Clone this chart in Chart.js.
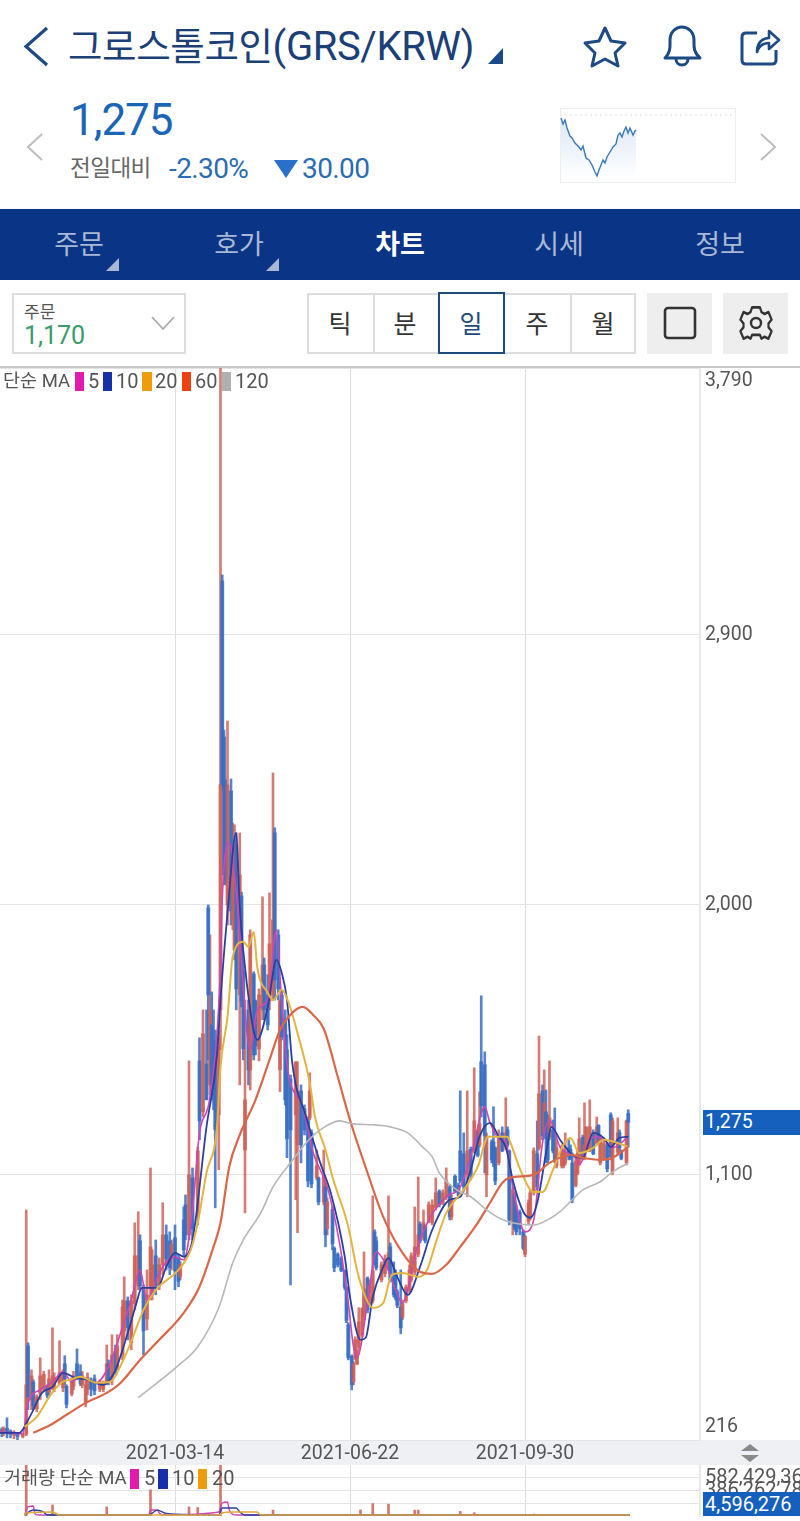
<!DOCTYPE html>
<html lang="ko">
<head>
<meta charset="utf-8">
<title>그로스톨코인(GRS/KRW)</title>
<script src="https://cdn.jsdelivr.net/npm/chart.js@4"></script>
<style>
html, body { margin: 0; padding: 0; background: #fff; }
body { position: relative; width: 800px; height: 1521px; overflow: hidden; font-family: Roboto, "Noto Sans CJK KR", sans-serif; }
.abs { position: absolute; white-space: nowrap; }
.box { position: absolute; box-sizing: border-box; }
.mid { transform: translateY(-50%); line-height: 1; }
.cen { transform: translate(-50%, -50%); line-height: 1; }
.lg { font-size: 18.5px; color: #555; }
.lgn { font-size: 20px; color: #555; }
canvas { position: absolute; display: block; }
svg { position: absolute; left: 0; top: 0; }
</style>
</head>
<body>

<!-- header -->
<div class="abs mid" id="title" style="left:68px;top:47px;font-size:37.5px;color:#1c3f78;letter-spacing:-.4px">그로스톨코인<span style="font-size:40px">(GRS/KRW)</span></div>
<div class="abs mid" style="left:70px;top:120px;font-size:44px;color:#1b65b5;letter-spacing:-1px">1,275</div>
<div class="abs mid" style="left:70px;top:168px;font-size:22.5px;color:#666;letter-spacing:-.5px">전일대비</div>
<div class="abs mid" style="left:169px;top:169px;font-size:28px;color:#2c6cb0;letter-spacing:-.6px">-2.30%</div>
<div class="abs mid" style="left:302px;top:169px;font-size:28px;color:#2c6cb0;letter-spacing:-.6px">30.00</div>

<!-- sparkline -->
<div class="box" style="left:560px;top:108px;width:176px;height:75px;border:1px solid #eee"></div>
<canvas id="spark" width="175" height="74" style="left:560px;top:108px"></canvas>

<!-- nav bar -->
<div class="box" style="left:0;top:209px;width:800px;height:71px;background:#0a3587"></div>
<div class="abs cen" style="left:79px;top:245px;font-size:27px;color:#a9b8d4">주문</div>
<div class="abs cen" style="left:239px;top:245px;font-size:27px;color:#a9b8d4">호가</div>
<div class="abs cen" style="left:400px;top:245px;font-size:27px;color:#fff;font-weight:700">차트</div>
<div class="abs cen" style="left:559px;top:245px;font-size:27px;color:#a9b8d4">시세</div>
<div class="abs cen" style="left:720px;top:245px;font-size:27px;color:#a9b8d4">정보</div>

<!-- controls -->
<div class="box" style="left:12px;top:293px;width:174px;height:61px;border:2px solid #ddd"></div>
<div class="abs mid" style="left:24px;top:312px;font-size:17px;color:#555">주문</div>
<div class="abs mid" style="left:24px;top:335px;font-size:25px;color:#3b9a6b">1,170</div>
<div class="box" style="left:307px;top:293px;width:329px;height:61px;border:2px solid #ddd"></div>
<div class="box" style="left:373px;top:293px;width:2px;height:61px;background:#ddd"></div>
<div class="box" style="left:570px;top:293px;width:2px;height:61px;background:#ddd"></div>
<div class="box" style="left:438px;top:292px;width:67px;height:62px;border:2px solid #1d4a7c;background:#fff"></div>
<div class="abs cen" style="left:340px;top:324px;font-size:25px;color:#333">틱</div>
<div class="abs cen" style="left:405px;top:324px;font-size:25px;color:#333">분</div>
<div class="abs cen" style="left:471px;top:324px;font-size:25px;color:#1d4a7c">일</div>
<div class="abs cen" style="left:537px;top:324px;font-size:25px;color:#333">주</div>
<div class="abs cen" style="left:603px;top:324px;font-size:25px;color:#333">월</div>
<div class="box" style="left:647px;top:293px;width:65px;height:61px;background:#eee"></div>
<div class="box" style="left:723px;top:293px;width:65px;height:61px;background:#eee"></div>

<!-- main chart frame -->
<div class="box" style="left:0;top:366px;width:800px;height:2px;background:#c8c8c8"></div>
<div class="box" style="left:0;top:1440px;width:800px;height:25px;background:#eef0f4"></div>
<canvas id="main" width="800" height="1097" style="left:0;top:368px"></canvas>
<canvas id="volume" width="800" height="56" style="left:0;top:1465px"></canvas>

<!-- legends -->
<div class="abs mid lg" style="left:3px;top:381px">단순 MA</div>
<div class="box" style="left:75px;top:372px;width:9px;height:19px;background:#e01bae"></div>
<div class="abs mid lgn" style="left:88px;top:381px">5</div>
<div class="box" style="left:103px;top:372px;width:9px;height:19px;background:#1530a8"></div>
<div class="abs mid lgn" style="left:116px;top:381px">10</div>
<div class="box" style="left:142px;top:372px;width:10px;height:19px;background:#ee9c0c"></div>
<div class="abs mid lgn" style="left:155px;top:381px">20</div>
<div class="box" style="left:182px;top:372px;width:9px;height:19px;background:#f0400f"></div>
<div class="abs mid lgn" style="left:195px;top:381px">60</div>
<div class="box" style="left:222px;top:372px;width:9px;height:19px;background:#b0b0b0"></div>
<div class="abs mid lgn" style="left:235px;top:381px">120</div>

<div class="abs mid lg" style="left:4px;top:1478px">거래량 단순 MA</div>
<div class="box" style="left:130px;top:1469px;width:9px;height:20px;background:#e01bae"></div>
<div class="abs mid lgn" style="left:144px;top:1478px">5</div>
<div class="box" style="left:158px;top:1469px;width:10px;height:20px;background:#1530a8"></div>
<div class="abs mid lgn" style="left:172px;top:1478px">10</div>
<div class="box" style="left:198px;top:1469px;width:9px;height:20px;background:#ee9c0c"></div>
<div class="abs mid lgn" style="left:212px;top:1478px">20</div>

<!-- price and volume tags -->
<div class="box" style="left:703px;top:1110px;width:97px;height:25px;background:#1560bd"></div>
<div class="abs mid" style="left:705px;top:1122px;font-size:19.5px;color:#fff">1,275</div>
<div class="box" style="left:703px;top:1492px;width:97px;height:24px;background:#1560bd"></div>
<div class="abs mid" style="left:705px;top:1504px;font-size:20px;color:#fff">4,596,276</div>

<!-- icons -->
<svg width="800" height="1521" viewBox="0 0 800 1521" fill="none">
  <path d="M47 28 L26 46.5 L47 65" stroke="#1b4a84" stroke-width="3.2"/>
  <path d="M503 48 V64 H488 Z" fill="#1b4a8a"/>
  <path d="M605 28 L611 41 L625 43 L615 53 L618 66 L605 59 L592 66 L595 53 L585 43 L599 41 Z" stroke="#1b4a84" stroke-width="3" stroke-linejoin="round"/>
  <path d="M665 58 C671 52 670 46 670 40 C670 32 676 27 682 27 C688 27 694 32 694 40 C694 46 693 52 700 58 Z" stroke="#1b4a84" stroke-width="3" stroke-linejoin="round"/>
  <path d="M676 59 C676 67 688 67 688 59" stroke="#1b4a84" stroke-width="3"/>
  <path d="M757 33 H746 Q742 33 742 37 V60 Q742 64 746 64 H772 Q776 64 776 60 V50" stroke="#1b4a84" stroke-width="3"/>
  <path d="M757 52 C757 42 763 38 769 38 V31 L779 40 L769 49 V43 C763 43 759 46 757 52 Z" stroke="#1b4a84" stroke-width="2.6" stroke-linejoin="round"/>
  <path d="M42 134 L28 147 L42 160" stroke="#bdbdbd" stroke-width="2"/>
  <path d="M761 134 L775 147 L761 160" stroke="#bdbdbd" stroke-width="2"/>
  <path d="M274 160 H298 L286 178 Z" fill="#2a6fc9"/>
  <path d="M119 258 V271 H106 Z" fill="#a9b8d4"/>
  <path d="M279 258 V271 H266 Z" fill="#a9b8d4"/>
  <path d="M152 317 L163 329 L174 317" stroke="#aaa" stroke-width="1.8"/>
  <rect x="665" y="308" width="30" height="30" rx="3" stroke="#333" stroke-width="2.6"/>
  <path d="M751 308 H761 L763 313 L767 315 L772 313 L776 321 L772 325 V329 L776 333 L772 341 L767 339 L763 341 L761 337 H751 L749 341 L745 339 L740 341 L736 333 L740 329 V325 L736 321 L740 313 L745 315 L749 313 Z" transform="translate(756 323) scale(.78 .95) translate(-756 -324.5)" stroke="#333" stroke-width="2.8" stroke-linejoin="round"/>
  <circle cx="756" cy="323" r="5" stroke="#333" stroke-width="2.4"/>
  <path d="M741 1451 L750 1444 L759 1451 Z" fill="#8a8a8a"/>
  <path d="M741 1455 H759 L750 1462 Z" fill="#8a8a8a"/>
</svg>

<script>
// ---- price chart: axis labels
const yTicks = [216, 1100, 2000, 2900, 3790];
const xTickDays = [100, 200, 300];
const xTickLabels = ['2021-03-14', '2021-06-22', '2021-09-30'];

// ---- daily candles (day index counted from the left edge of the chart)
const candleDays = [
  1,2,4,6,8,10,13,15,16,18,
  19,21,23,25,27,28,30,31,34,36,
  37,38,41,42,44,46,47,49,50,52,
  54,57,59,61,62,64,66,67,70,71,
  73,75,77,79,80,82,84,86,87,89,
  91,93,95,97,98,100,102,103,105,106,
  108,110,113,114,116,118,119,120,121,122,
  123,125,126,127,128,129,130,132,133,134,
  135,137,138,139,140,142,143,145,146,148,
  150,151,153,154,156,157,159,160,161,163,
  164,166,169,170,172,174,176,177,178,181,
  182,185,186,187,190,191,193,195,197,198,
  199,201,202,203,204,205,207,208,210,211,
  213,214,215,218,220,222,223,225,226,227,
  229,230,232,234,235,237,239,240,242,243,
  245,247,249,251,253,255,257,258,260,262,
  263,265,267,269,271,273,274,275,277,278,
  281,282,283,285,287,289,290,291,293,294,
  295,297,299,300,302,303,305,307,308,310,
  311,312,313,314,316,317,318,321,322,323,
  325,326,327,329,330,331,333,334,335,337,
  339,341,342,343,345,347,349,350,353,354,
  355,358,359
];
const opens = [
  250,240,255,245,232,240,228,236,530,350,
  410,320,370,385,395,375,390,395,405,390,
  470,395,370,395,470,440,400,340,385,415,
  420,385,385,405,470,420,510,455,500,580,
  680,540,670,730,880,720,620,720,700,830,
  730,800,900,880,820,890,825,760,950,1000,
  900,1090,960,1480,1310,1470,1990,1400,1600,1550,
  1530,1300,1650,3080,2560,2400,2000,2380,1950,1850,
  2200,1700,2030,1780,1183,1650,1450,1770,1680,1520,
  1650,1800,1700,1680,1700,2240,1900,1450,1700,1620,
  1517,1420,1300,1200,1380,1320,1280,1290,1240,1090,
  1090,1010,1060,920,985,855,835,820,780,725,
  600,495,410,490,470,525,565,630,755,670,
  680,910,880,750,770,790,860,760,770,710,
  660,625,680,715,750,775,835,935,890,930,
  945,940,990,1045,1005,1025,1060,960,1095,1065,
  1180,1170,1100,1185,1180,1245,1200,1477,1467,1100,
  1210,1210,1190,1140,1240,1190,1250,1180,945,1035,
  990,975,910,835,945,960,1040,1170,1190,1380,
  1240,1310,1280,1225,1250,1190,1130,1130,1130,1140,
  1190,1185,1140,1065,1105,1140,1225,1160,1180,1180,
  1240,1205,1265,1140,1155,1200,1300,1110,1175,1240,
  1180,1140,1305
];
const closes = [
  240,255,240,235,240,228,236,400,360,430,
  330,360,430,435,365,420,430,425,440,440,
  420,335,410,430,425,405,430,400,425,385,
  380,410,405,470,415,500,450,530,660,680,
  590,680,830,830,730,580,700,860,800,730,
  800,900,820,790,870,780,745,800,850,900,
  1100,920,1180,1280,1570,1350,1700,1650,1400,1400,
  1250,1560,2400,2400,2100,2080,2400,1980,2150,2200,
  1720,2100,1680,1520,1350,1450,1900,1500,1530,1700,
  1800,1650,1600,1870,1950,1750,1720,1680,1560,1350,
  1220,1250,1477,1380,1200,1250,1080,1380,1070,1130,
  1010,1100,900,1010,870,790,800,780,725,615,
  490,400,470,550,515,610,655,720,650,730,
  780,810,790,800,820,840,750,700,690,665,
  590,670,725,783,830,860,900,880,940,880,
  1000,1000,1040,1000,1040,1080,960,1020,1045,1030,
  1080,1060,1180,1100,1280,1165,1270,1330,1230,1230,
  1150,1140,1080,1220,1180,1240,1200,950,1050,925,
  910,920,855,895,1005,1040,1180,1060,1370,1230,
  1340,1220,1150,1290,1180,1150,1190,1190,1180,1170,
  1160,1155,1017,1145,1170,1220,1155,1200,1260,1260,
  1170,1260,1215,1220,1205,1120,1160,1280,1240,1190,
  1155,1280,1275
];
const highs = [
  257,260,290,250,247,240,240,983,540,450,
  417,367,490,445,400,450,590,440,547,450,
  497,400,423,445,520,467,445,417,440,423,
  433,417,413,533,483,567,533,567,683,760,
  693,700,940,977,900,733,783,1123,850,883,
  823,1007,933,910,883,933,833,810,993,1033,
  1480,1123,1193,1557,1650,1650,2000,1900,1710,1650,
  1583,1583,3790,3100,2583,2417,2613,2420,2273,2267,
  2240,2240,2043,1817,1683,1683,1917,1777,1683,1720,
  2027,1823,1767,2040,2440,2257,1917,1683,1717,1650,
  1567,1433,1477,1477,1400,1333,1293,1440,1250,1183,
  1093,1183,1073,1023,993,860,840,827,783,727,
  607,500,477,560,517,657,657,843,760,750,
  1030,917,893,810,833,1030,873,810,783,717,
  783,683,733,800,840,993,1093,943,983,933,
  1010,1017,1090,1050,1050,1123,1067,1033,1100,1073,
  1380,1240,1380,1193,1457,1250,1377,1697,1510,1240,
  1217,1327,1193,1250,1260,1357,1260,1183,1060,1040,
  1000,983,917,900,1017,1050,1190,1280,1563,1400,
  1450,1383,1300,1480,1283,1323,1217,1200,1183,1240,
  1217,1200,1173,1167,1183,1290,1233,1340,1260,1350,
  1250,1293,1267,1233,1217,1207,1307,1290,1290,1250,
  1183,1283,1317
];
const lows = [
  227,230,223,223,220,217,223,230,317,317,
  317,310,350,377,357,367,383,377,400,377,
  400,323,363,383,417,397,390,327,367,363,
  367,377,377,400,400,400,433,450,483,550,
  550,517,650,717,717,500,583,683,683,700,
  717,767,783,767,783,717,727,750,830,883,
  883,883,933,1217,1293,1350,1483,1367,1350,1317,
  990,1117,1517,2383,2067,2067,1933,1933,1917,1817,
  1650,1400,1660,1483,973,1400,1383,1483,1500,1480,
  1617,1617,1583,1650,1683,1683,1683,1377,1550,1333,
  1157,733,1017,907,1140,1233,1060,1283,1057,1083,
  1000,1000,860,900,850,777,793,777,717,607,
  483,383,400,483,467,517,560,617,640,667,
  673,800,783,743,760,783,743,693,683,657,
  570,617,673,707,743,767,827,873,883,873,
  940,933,983,993,1000,1017,950,950,1040,1027,
  1073,1050,1027,1083,1173,1160,1193,1293,1107,1027,
  1140,1127,1067,1133,1177,1183,1193,933,900,917,
  900,900,850,827,933,950,1033,1050,1183,1217,
  1233,1140,1140,1217,1173,1140,1123,1123,1123,1133,
  1150,1150,1007,1060,1100,1133,1150,1150,1177,1177,
  1167,1200,1207,1133,1150,1110,1150,1100,1167,1183,
  1150,1133,1193
];

// ---- moving averages, read at turning points
const ma5Days = [0,13,16,23,30,36,41,46,55,63,70,75,80,84,91,99,105,110,114,120,126,127,131,135,143,147,153,158,160,164,173,179,187,194,199,202,204,210,215,220,226,230,238,246,255,263,270,277,280,286,289,293,300,305,310,314,320,329,331,337,341,347,350,359];
const ma5 = [243,237,340,383,410,443,410,427,407,473,593,683,783,683,773,827,817,983,1240,1360,1793,2017,2207,2040,1517,1650,1683,1917,1760,1467,1327,1173,1060,873,673,527,490,673,843,807,717,673,850,960,1027,1060,1183,1327,1273,1217,1210,1060,910,950,1207,1283,1193,1157,1133,1217,1227,1207,1190,1227];
const ma10Days = [0,11,17,24,30,36,43,50,59,66,73,78,81,90,95,100,105,110,118,124,126,130,135,137,141,147,153,158,161,164,167,175,183,189,197,200,206,209,213,219,222,227,233,240,247,257,263,269,274,280,285,289,293,299,303,307,313,315,320,327,333,339,345,349,354,359];
const ma10 = [240,240,293,373,393,440,423,417,400,450,573,673,723,723,793,840,827,883,1260,1500,1683,1973,2240,1993,1740,1550,1660,1817,1773,1683,1473,1293,1140,1040,827,693,550,557,693,793,823,760,700,793,917,1017,1027,1117,1227,1273,1227,1193,1083,977,957,1007,1207,1260,1217,1167,1157,1240,1223,1193,1223,1227];
const ma20Days = [14,21,29,35,40,46,55,63,70,76,82,90,101,109,113,118,124,126,130,133,139,142,145,147,153,156,161,165,170,177,180,186,190,199,204,209,213,219,224,230,239,244,249,255,265,273,279,290,291,298,305,310,316,322,326,331,339,345,356,359];
const ma20 = [260,293,367,407,417,427,407,410,477,560,650,723,777,850,940,1107,1260,1460,1627,1827,1877,1860,1910,1793,1707,1683,1717,1673,1573,1407,1293,1183,1093,927,783,690,657,673,767,773,760,783,873,973,1050,1127,1227,1227,1217,1107,1043,1043,1117,1200,1223,1173,1190,1217,1200,1193];
const ma60Days = [19,29,38,50,61,69,80,91,105,114,122,126,131,137,146,154,160,167,173,179,185,193,200,210,219,230,240,247,255,263,273,280,287,291,305,314,326,333,343,350,359];
const ma60 = [240,267,300,343,373,407,483,550,640,727,860,940,1127,1233,1350,1483,1583,1640,1660,1633,1587,1427,1283,1107,960,840,777,770,800,860,940,1007,1073,1090,1100,1140,1167,1157,1150,1157,1193];
const ma120Days = [79,101,113,125,133,139,149,156,166,175,183,194,202,213,223,233,242,247,251,261,269,278,284,291,305,313,320,327,333,343,350,359];
const ma120 = [357,460,527,657,807,883,973,1060,1140,1207,1250,1280,1270,1267,1260,1240,1190,1160,1107,1050,1027,983,960,943,933,950,977,1017,1050,1077,1110,1140];

// ---- volume panel
const volTicks = [194000000, 386262785, 582429369];
const volDays = [15,30,61,86,108,113,126,156,206,213,222,237,239,263,271,305,326,358];
const volumes = [800000000,170000000,140000000,400000000,140000000,130000000,800000000,90000000,92000000,190000000,180000000,90000000,90000000,70000000,50000000,30000000,25000000,20000000];
const volMa5Days = [14,16,19,20,22,85,86,90,91,93,125,127,130,131,135,360];
const volMa5 = [15,138,153,31,15,15,92,92,46,15,61,199,214,92,15,15];
const volMa10Days = [14,19,25,27,29,85,90,95,125,127,135,137,140,360];
const volMa10 = [15,92,61,15,15,15,90,40,15,122,122,60,15,15];
const volMa20Days = [14,15,30,34,125,127,133,147,149,360];
const volMa20 = [15,46,61,15,15,46,61,61,15,15];

// ---- small price picture in the header
const sparkX = [1,3,5,7,10,12,15,18,21,23,26,29,32,35,37,39,41,43,45,47,50,53,56,58,60,62,64,66,68,70,73,75,76];
const sparkValues = [64,58,62,54,46,44,39,36,32,36,24,22,17,10,6,12,17,22,19,25,30,35,38,47,49,45,51,55,49,54,47,51,52];

const zip = (xs, ys) => xs.map((x, i) => ({ x: x, y: ys[i] }));
const fmt = v => Number(v).toLocaleString('en-US');

const RED = 'rgba(205,95,85,0.82)';
const BLUE = 'rgba(55,110,195,0.85)';
const candleColors = candleDays.map((d, i) => closes[i] >= opens[i] ? RED : BLUE);

function noPadding(s) {
    s.paddingTop = 0;
    s.paddingBottom = 0;
    s.paddingLeft = 0;
    s.paddingRight = 0;
}

function maLine(xs, ys, color, width) {
    return {
        type: 'line',
        data: zip(xs, ys),
        borderColor: color,
        borderWidth: width,
        pointRadius: 0,
        cubicInterpolationMode: 'monotone',
        order: 1,
    };
}

new Chart(document.getElementById('main').getContext('2d'), {
    type: 'bar',
    data: {
        datasets: [
            maLine(ma120Days, ma120, '#b7b7b7', 1.6),
            maLine(ma60Days, ma60, '#d9684a', 2.2),
            maLine(ma20Days, ma20, '#e2b440', 2),
            maLine(ma10Days, ma10, '#2b3f9f', 1.8),
            maLine(ma5Days, ma5, '#cf45b4', 1.6),
            {
                data: candleDays.map((d, i) => ({ x: d, y: [lows[i], highs[i]] })),
                backgroundColor: candleColors,
                barThickness: 2,
                grouped: false,
                order: 3,
            },
            {
                data: candleDays.map((d, i) => ({ x: d, y: [opens[i], closes[i]] })),
                backgroundColor: candleColors,
                barThickness: 3.2,
                grouped: false,
                order: 2,
            },
        ],
    },
    options: {
        responsive: false,
        animation: false,
        devicePixelRatio: 1,
        layout: { padding: 0 },
        plugins: { legend: { display: false }, tooltip: { enabled: false } },
        scales: {
            x: {
                type: 'linear',
                min: 0,
                max: 400,
                offset: false,
                grid: { color: '#dedede', offset: false, drawTicks: false, lineWidth: 1 },
                border: { display: false },
                afterFit: s => { s.height = 25; noPadding(s); },
                afterBuildTicks: s => { s.ticks = xTickDays.map(v => ({ value: v })); },
                ticks: {
                    autoSkip: false,
                    maxRotation: 0,
                    padding: 2,
                    color: '#555',
                    font: { family: 'Roboto', size: 19.5 },
                    callback: v => xTickLabels[xTickDays.indexOf(v)],
                },
            },
            y: {
                type: 'linear',
                position: 'right',
                min: 216,
                max: 3790,
                grid: { color: '#e4e4e4', drawTicks: false },
                border: { display: true, color: '#e8e8e8', width: 2 },
                afterFit: s => { s.width = 100; noPadding(s); },
                afterBuildTicks: s => { s.ticks = yTicks.map(v => ({ value: v })); },
                ticks: {
                    autoSkip: false,
                    padding: 5,
                    color: '#555',
                    font: { family: 'Roboto', size: 19.5, lineHeight: 1.3 },
                    callback: v => v === 3790 ? ['', fmt(v)] : v === 216 ? [fmt(v), ''] : fmt(v),
                },
            },
        },
    },
});

new Chart(document.getElementById('volume').getContext('2d'), {
    type: 'bar',
    data: {
        datasets: [
            maLine(volMa20Days, volMa20.map(v => v * 1000000), '#e2a83c', 1.6),
            maLine(volMa10Days, volMa10.map(v => v * 1000000), '#2b3f9f', 1.4),
            maLine(volMa5Days, volMa5.map(v => v * 1000000), '#cf45b4', 1.4),
            {
                data: zip(volDays, volumes),
                backgroundColor: 'rgba(205,95,85,0.85)',
                barThickness: 2,
                order: 2,
            },
        ],
    },
    options: {
        responsive: false,
        animation: false,
        devicePixelRatio: 1,
        layout: { padding: { bottom: 5 } },
        plugins: { legend: { display: false }, tooltip: { enabled: false } },
        scales: {
            x: {
                type: 'linear',
                min: 0,
                max: 400,
                offset: false,
                grid: { color: '#dedede', offset: false, drawTicks: false },
                border: { display: false },
                afterFit: s => { s.height = 0; noPadding(s); },
                afterBuildTicks: s => { s.ticks = xTickDays.map(v => ({ value: v })); },
                ticks: { display: false },
            },
            y: {
                type: 'linear',
                position: 'right',
                min: 0,
                max: 780000000,
                grid: { color: '#e4e4e4', drawTicks: false },
                border: { display: true, color: '#e8e8e8', width: 2 },
                afterFit: s => { s.width = 100; noPadding(s); },
                afterBuildTicks: s => { s.ticks = volTicks.map(v => ({ value: v })); },
                ticks: {
                    autoSkip: false,
                    padding: 5,
                    color: '#555',
                    font: { family: 'Roboto', size: 20 },
                    callback: v => v === volTicks[0] ? '' : fmt(v),
                },
            },
        },
    },
});

new Chart(document.getElementById('spark').getContext('2d'), {
    type: 'line',
    data: {
        datasets: [
            {
                data: zip(sparkX, sparkValues),
                borderColor: '#3a78b8',
                borderWidth: 1.4,
                pointRadius: 0,
                fill: 'origin',
                backgroundColor: ctx => {
                    const g = ctx.chart.ctx.createLinearGradient(0, 0, 0, 70);
                    g.addColorStop(0, '#d5e3f3');
                    g.addColorStop(1, '#ffffff');
                    return g;
                },
            },
            {
                data: zip([0, 175], [67, 67]),
                borderColor: '#dcdcdc',
                borderWidth: 1,
                borderDash: [2, 3],
                pointRadius: 0,
            },
        ],
    },
    options: {
        responsive: false,
        animation: false,
        devicePixelRatio: 1,
        layout: { padding: 0 },
        plugins: { legend: { display: false }, tooltip: { enabled: false } },
        scales: {
            x: { type: 'linear', min: 0, max: 175, display: false },
            y: { type: 'linear', min: 0, max: 74, display: false },
        },
    },
});
</script>
</body>
</html>
